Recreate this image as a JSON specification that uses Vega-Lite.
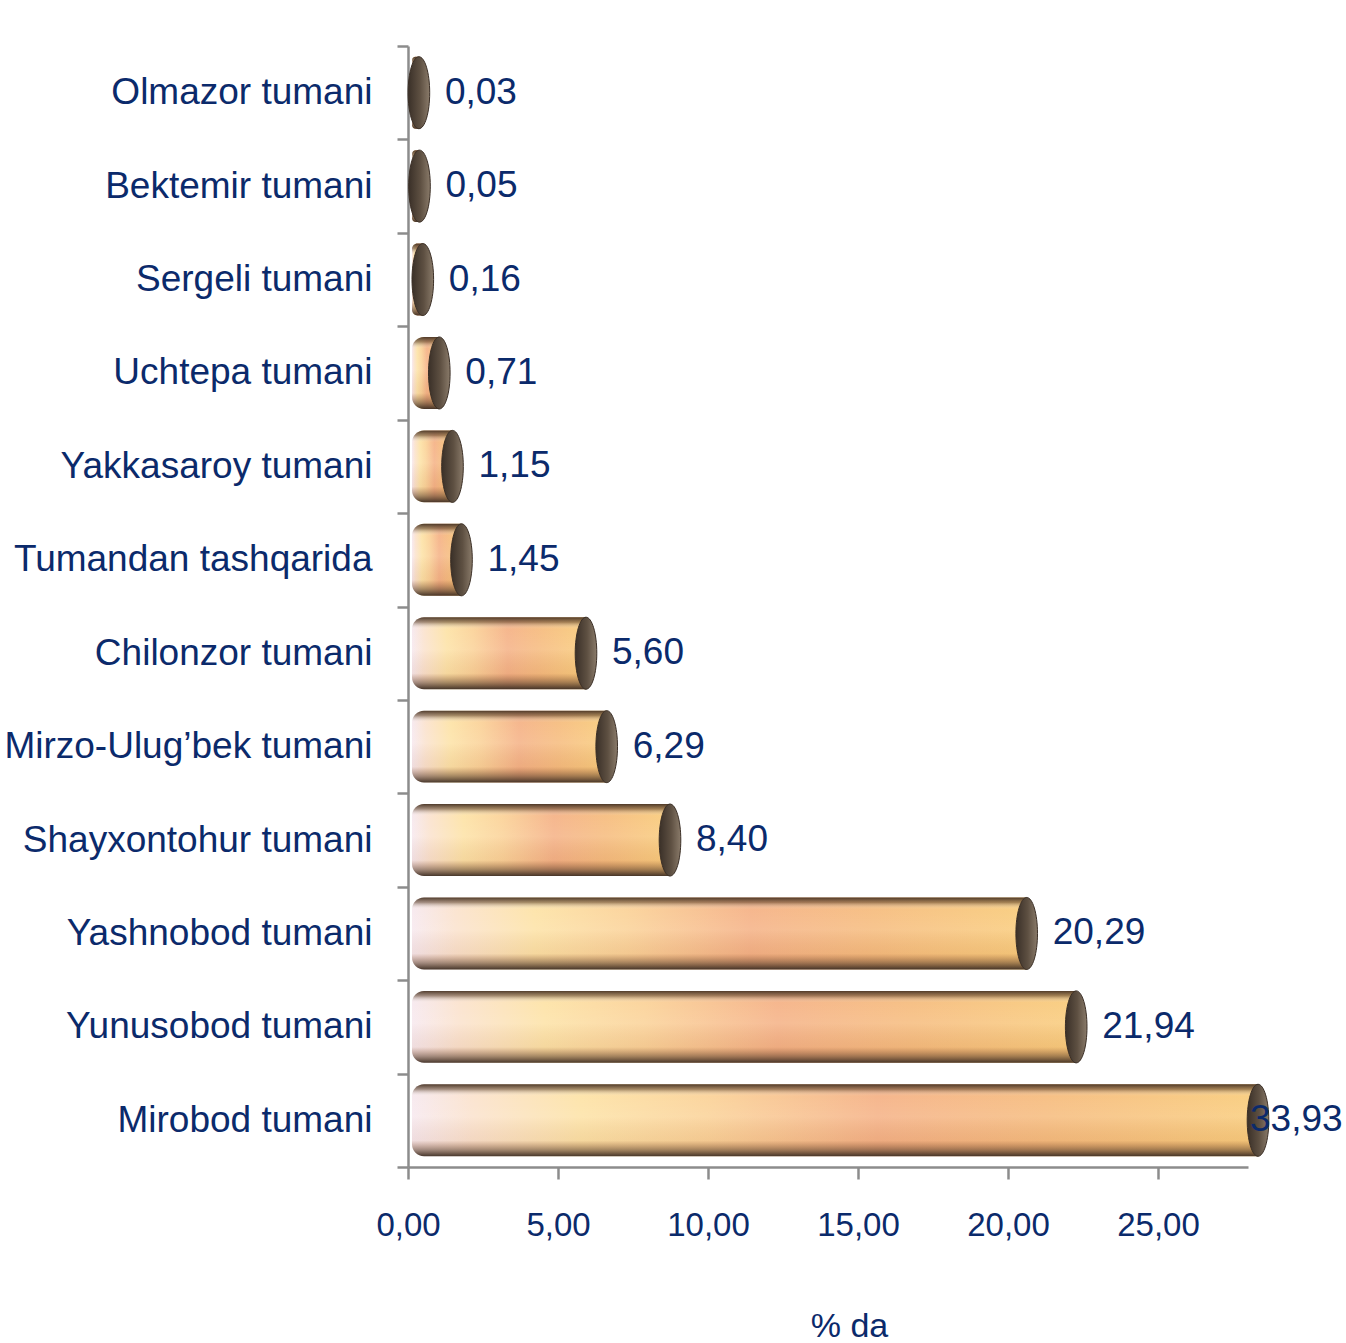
{
  "$schema": "https://vega.github.io/schema/vega-lite/v6.json",
  "autosize": "none",
  "width": 840,
  "height": 1121,
  "padding": {"left": 408, "top": 46, "right": 98, "bottom": 176},
  "background": "white",
  "config": {
    "view": {"stroke": null},
    "font": "Liberation Sans, Arial, sans-serif",
    "locale": {"number": {"decimal": ",", "thousands": " ", "grouping": [3], "currency": ["", ""]}}
  },
  "data": {
    "values": [
      {"district": "Olmazor tumani", "value": 0.03},
      {"district": "Bektemir tumani", "value": 0.05},
      {"district": "Sergeli tumani", "value": 0.16},
      {"district": "Uchtepa tumani", "value": 0.71},
      {"district": "Yakkasaroy tumani", "value": 1.15},
      {"district": "Tumandan tashqarida", "value": 1.45},
      {"district": "Chilonzor tumani", "value": 5.60},
      {"district": "Mirzo-Ulug’bek tumani", "value": 6.29},
      {"district": "Shayxontohur tumani", "value": 8.40},
      {"district": "Yashnobod tumani", "value": 20.29},
      {"district": "Yunusobod tumani", "value": 21.94},
      {"district": "Mirobod tumani", "value": 33.93}
    ]
  },
  "encoding": {
    "y": {
      "field": "district",
      "type": "nominal",
      "sort": {"field": "value", "order": "ascending"},
      "scale": {"paddingInner": 0, "paddingOuter": 0},
      "axis": {
        "title": null,
        "labelFontSize": 37,
        "labelColor": "#0b2a6b",
        "labelPadding": 25,
        "labelLimit": 500,
        "tickSize": 11,
        "tickBand": "extent",
        "tickColor": "#8c8c8c",
        "tickWidth": 2.5,
        "domainColor": "#8c8c8c",
        "domainWidth": 2.5,
        "grid": false
      }
    }
  },
  "layer": [
    {
      "mark": {
        "type": "bar",
        "height": {"band": 0.77},
        "xOffset": 10,
        "x2Offset": 4,
        "cornerRadiusTopLeft": 12,
        "cornerRadiusBottomLeft": 12,
        "fill": {
          "gradient": "linear", "x1": 0, "y1": 0, "x2": 1, "y2": 0,
          "stops": [
            {"offset": 0, "color": "#f7e9ef"},
            {"offset": 0.07, "color": "#fbe3cf"},
            {"offset": 0.2, "color": "#fde3a8"},
            {"offset": 0.35, "color": "#fbd39a"},
            {"offset": 0.55, "color": "#f5b388"},
            {"offset": 0.75, "color": "#f6bd80"},
            {"offset": 1, "color": "#f9cd7e"}
          ]
        }
      },
      "encoding": {
        "x": {
          "field": "value",
          "type": "quantitative",
          "stack": null,
          "scale": {"domain": [0, 28], "nice": false, "clamp": true, "zero": true},
          "axis": {
            "values": [0, 5, 10, 15, 20, 25],
            "format": ".2f",
            "labelFontSize": 33,
            "labelColor": "#0b2a6b",
            "labelPadding": 30,
            "labelFlush": false,
            "labelOverlap": false,
            "tickSize": 12,
            "tickColor": "#8c8c8c",
            "tickWidth": 2.5,
            "domainColor": "#8c8c8c",
            "domainWidth": 2.5,
            "grid": false,
            "title": "% da",
            "titleFontSize": 34,
            "titleFontWeight": "normal",
            "titleColor": "#0b2a6b",
            "titlePadding": 67,
            "titleX": 441,
            "titleAlign": "center"
          }
        },
        "x2": {"datum": 0}
      }
    },
    {
      "mark": {
        "type": "bar",
        "height": {"band": 0.77},
        "xOffset": 10,
        "x2Offset": 4,
        "cornerRadiusTopLeft": 12,
        "cornerRadiusBottomLeft": 12,
        "fill": {
          "gradient": "linear", "x1": 0, "y1": 0, "x2": 0, "y2": 1,
          "stops": [
            {"offset": 0, "color": "rgba(70,50,35,0.95)"},
            {"offset": 0.07, "color": "rgba(95,70,50,0.55)"},
            {"offset": 0.16, "color": "rgba(255,255,255,0.05)"},
            {"offset": 0.45, "color": "rgba(255,255,255,0.12)"},
            {"offset": 0.78, "color": "rgba(150,80,40,0.08)"},
            {"offset": 0.91, "color": "rgba(90,60,40,0.55)"},
            {"offset": 1, "color": "rgba(60,45,35,0.95)"}
          ]
        }
      },
      "encoding": {
        "x": {"field": "value", "type": "quantitative", "stack": null},
        "x2": {"datum": 0}
      }
    },
    {
      "mark": {
        "type": "point",
        "shape": "M0,-1 A0.3,1 0 1,1 0,1 A0.3,1 0 1,1 0,-1 Z",
        "size": 5184,
        "filled": true,
        "opacity": 1,
        "xOffset": 10,
        "fill": {
          "gradient": "linear", "x1": 0, "y1": 0, "x2": 1, "y2": 0,
          "stops": [
            {"offset": 0, "color": "#3a3028"},
            {"offset": 0.55, "color": "#5e5042"},
            {"offset": 1, "color": "#8a7b6a"}
          ]
        },
        "stroke": "#3b2f26",
        "strokeWidth": 1
      },
      "encoding": {
        "x": {"field": "value", "type": "quantitative"}
      }
    },
    {
      "transform": [{"filter": "datum.value <= 28"}],
      "mark": {
        "type": "text",
        "align": "left",
        "baseline": "middle",
        "dx": 36,
        "fontSize": 37,
        "color": "#0b2a6b"
      },
      "encoding": {
        "x": {"field": "value", "type": "quantitative"},
        "text": {"field": "value", "type": "quantitative", "format": ".2f"}
      }
    },
    {
      "transform": [{"filter": "datum.value > 28"}],
      "mark": {
        "type": "text",
        "align": "left",
        "baseline": "middle",
        "dx": 2,
        "fontSize": 37,
        "color": "#0b2a6b"
      },
      "encoding": {
        "x": {"field": "value", "type": "quantitative"},
        "text": {"field": "value", "type": "quantitative", "format": ".2f"}
      }
    }
  ]
}
